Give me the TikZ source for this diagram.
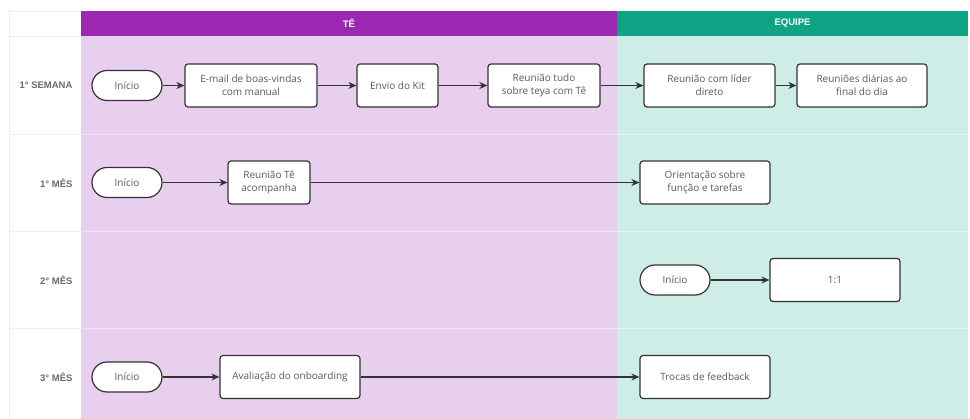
\documentclass[tikz,border=0pt]{standalone}
\usepackage{fontspec}
\setmainfont{Open Sans}
\newfontfamily\labfont{Liberation Sans}
\usetikzlibrary{arrows.meta}
\definecolor{tepurple}{HTML}{9C27B0}
\definecolor{telight}{HTML}{E9CFEE}
\definecolor{eqgreen}{HTML}{0EA384}
\definecolor{eqlight}{HTML}{CDEDE6}
\definecolor{boxtext}{HTML}{5A5A5A}
\definecolor{labtext}{HTML}{6A6A6A}
\definecolor{edge}{HTML}{333333}
\definecolor{sepgray}{HTML}{EFEFEF}
\tikzset{
  box/.style={draw=edge, line width=1.2pt, fill=white, rounded corners=3pt,
    minimum height=43pt, align=center, inner sep=2pt, text=boxtext,
    font=\fontsize{10}{13.3}\selectfont},
  term/.style={draw=edge, line width=1.2pt, fill=white, rounded corners=15pt,
    minimum width=70pt, minimum height=30pt, text=boxtext,
    font=\fontsize{10}{13.3}\selectfont},
  arr/.style={draw=edge, line width=1.2pt, -{Stealth[length=8pt,width=7pt,inset=2.5pt]}},
  rowlab/.style={text=labtext, font=\labfont\bfseries\fontsize{9.5}{11}\selectfont, anchor=east},
  headlab/.style={text=white, font=\labfont\bfseries\fontsize{9.5}{11}\selectfont},
}
\begin{document}
\begin{tikzpicture}[x=1pt,y=-1pt]
\useasboundingbox (0,0) rectangle (970,419);
% background lanes
\fill[white] (0,0) rectangle (970,419);
\fill[telight] (81,36) rectangle (617,419);
\fill[eqlight] (617,36) rectangle (968,419);
\fill[tepurple] (81,11) rectangle (617,36);
\fill[eqgreen] (617,11) rectangle (968,36);
% label column borders
\draw[sepgray, line width=0.8pt] (9.5,11) -- (9.5,419);
\draw[sepgray, line width=0.8pt] (9.5,11) -- (81,11);
\foreach \yy in {36,134,231,328}{
  \draw[sepgray, line width=0.8pt] (9.5,\yy) -- (81,\yy);
}
\foreach \yy in {134,231,328}{
  \draw[white, opacity=0.45, line width=0.8pt] (81,\yy) -- (968,\yy);
}
% headers
\node[headlab] (hte) at (349,23.5) {TÊ};
\node[headlab] (heq) at (792.5,23.5) {EQUIPE};
% row labels
\node[rowlab] (l1) at (76,85.5) {1° SEMANA};
\node[rowlab] (l2) at (76,183) {1° MÊS};
\node[rowlab] (l3) at (76,280) {2° MÊS};
\node[rowlab] (l4) at (76,377) {3° MÊS};
% row 1
\node[term] (s1) at (127,85.5) {Início};
\node[box, minimum width=132pt] (email) at (251,85.5) {E-mail de boas-vindas\\com manual};
\node[box, minimum width=81pt] (kit) at (397.5,85.5) {Envio do Kit};
\node[box, minimum width=112pt] (tudo) at (544,85.5) {Reunião tudo\\sobre teya com Tê};
\node[box, minimum width=131pt] (lider) at (709.5,85.5) {Reunião com líder\\direto};
\node[box, minimum width=130pt] (diarias) at (862,85.5) {Reuniões diárias ao\\final do dia};
\draw[arr] (s1) -- (email);
\draw[arr] (email) -- (kit);
\draw[arr] (kit) -- (tudo);
\draw[arr] (tudo) -- (lider);
\draw[arr] (lider) -- (diarias);
% row 2
\node[term] (s2) at (127,182.5) {Início};
\node[box, minimum width=82pt] (acomp) at (269,182.5) {Reunião Tê\\acompanha};
\node[box, minimum width=130pt] (orient) at (705,182.5) {Orientação sobre\\função e tarefas};
\draw[arr] (s2) -- (acomp);
\draw[arr] (acomp) -- (orient);
% row 3
\node[term] (s3) at (675,280) {Início};
\node[box, minimum width=130pt] (um) at (835,280) {1:1};
\draw[arr] (s3) -- (um);
% row 4
\node[term] (s4) at (127,377) {Início};
\node[box, minimum width=140pt] (aval) at (290,377) {Avaliação do onboarding};
\node[box, minimum width=130pt] (trocas) at (705,377) {Trocas de feedback};
\draw[arr] (s4) -- (aval);
\draw[arr] (aval) -- (trocas);
\end{tikzpicture}
\end{document}
